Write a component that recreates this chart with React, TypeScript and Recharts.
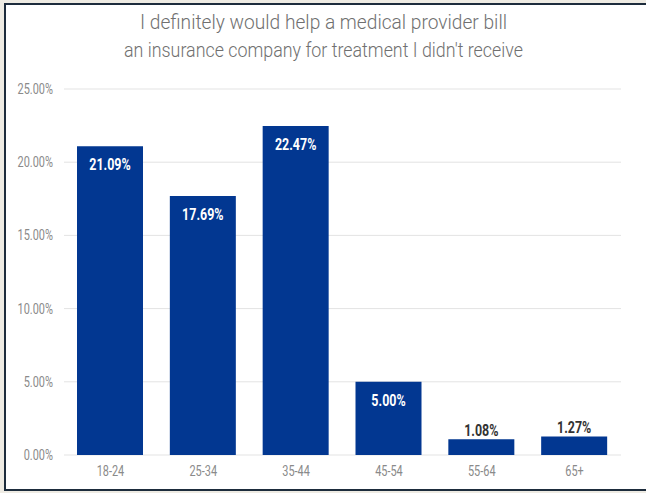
import React from 'react';
import { BarChart, Bar, XAxis, YAxis, CartesianGrid, LabelList } from 'recharts';

const AGE_GROUPS = ['18-24', '25-34', '35-44', '45-54', '55-64', '65+'];
const SHARES = [21.09, 17.69, 22.47, 5.0, 1.08, 1.27];
const Y_TICKS = [0, 5, 10, 15, 20, 25];
const TITLE_LINES = [
  'I definitely would help a medical provider bill',
  "an insurance company for treatment I didn't receive",
];

const BAR_COLOR = '#023791';
const FONT = 'Roboto, "Noto Sans", sans-serif';
const SQUEEZE = 0.78;

const data = AGE_GROUPS.map((age, i) => ({ age, share: SHARES[i] }));

const fmt = (v: number) => `${v.toFixed(2)}%`;

const YTick = ({ x, y, payload }: any) => (
  <text
    transform={`translate(${x - 3},${y + 5}) scale(${SQUEEZE},1)`}
    textAnchor="end"
    fontFamily={FONT}
    fontSize={14}
    fill="#8a8a8a"
  >
    {fmt(payload.value)}
  </text>
);

const XTick = ({ x, y, payload }: any) => (
  <text
    transform={`translate(${x},${y + 13}) scale(${SQUEEZE},1)`}
    textAnchor="middle"
    fontFamily={FONT}
    fontSize={14}
    fill="#8a8a8a"
  >
    {payload.value}
  </text>
);

const ValueLabel = ({ x, y, width, value }: any) => {
  const inside = value > 3;
  const cx = x + width / 2;
  const ty = inside ? y + 24 : y - 3;
  return (
    <text
      transform={`translate(${cx},${ty}) scale(${SQUEEZE},1)`}
      textAnchor="middle"
      fontFamily={FONT}
      fontSize={16}
      fontWeight={700}
      fill={inside ? '#ffffff' : '#333333'}
    >
      {fmt(value)}
    </text>
  );
};

export default function App() {
  return (
    <div style={{ position: 'fixed', left: 0, top: 0, width: 646, height: 493, background: '#eeebe3', overflow: 'hidden' }}>
      <div
        style={{
          position: 'absolute',
          left: 4,
          top: 3,
          width: 660,
          height: 488,
          border: '2px solid #1d2c3c',
          background: '#fff',
          boxSizing: 'border-box',
        }}
      />
      <svg width={646} height={80} style={{ position: 'absolute', left: 0, top: 0 }}>
        <text x={323.5} y={29} textAnchor="middle" fontFamily={FONT} fontWeight={300} fontSize={21} fill="#707070"
          textLength={367} lengthAdjust="spacingAndGlyphs">
          {TITLE_LINES[0]}
        </text>
        <text x={323.5} y={57} textAnchor="middle" fontFamily={FONT} fontWeight={300} fontSize={21} fill="#707070"
          textLength={399} lengthAdjust="spacingAndGlyphs">
          {TITLE_LINES[1]}
        </text>
      </svg>
      <div style={{ position: 'absolute', left: 0, top: 0 }}>
        <BarChart width={646} height={493} data={data} margin={{ top: 89, right: 25, bottom: 8, left: 14 }}>
          <CartesianGrid vertical={false} stroke="#e3e3e3" />
          <XAxis dataKey="age" axisLine={false} tickLine={false} tick={<XTick />} interval={0} height={30} />
          <YAxis domain={[0, 25]} ticks={Y_TICKS} axisLine={false} tickLine={false} tick={<YTick />} width={50} />
          <Bar dataKey="share" fill={BAR_COLOR} barSize={66} isAnimationActive={false}>
            <LabelList dataKey="share" content={<ValueLabel />} />
          </Bar>
        </BarChart>
      </div>
    </div>
  );
}
